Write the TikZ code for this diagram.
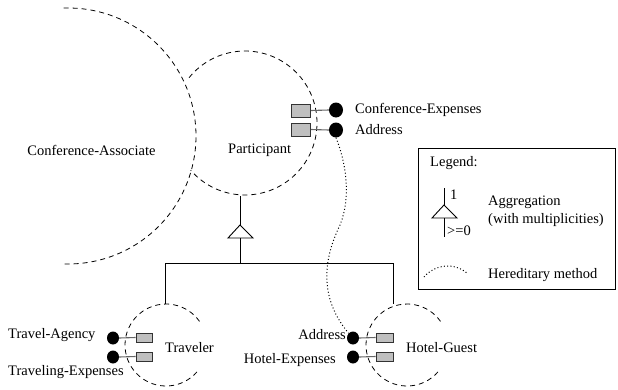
\documentclass[tikz,border=0pt]{standalone}
\usepackage{fontspec}
\setmainfont{Liberation Serif}
\usetikzlibrary{shapes.geometric}
\begin{document}
\begin{tikzpicture}[x=1pt,y=-1pt,
  font=\fontsize{14.5}{17}\selectfont,
  lbl/.style={inner sep=0pt},
  classarc/.style={line width=0.8pt, dash pattern=on 5pt off 4pt},
  attrbox/.style={draw=black!80, fill=black!25, line width=0.8pt, inner sep=0pt, minimum width=#1},
  attrbox/.default=19pt,
  port/.style={ellipse, fill=black, inner sep=0pt, minimum width=#1, minimum height=#1+1pt},
  port/.default=14pt,
  link/.style={draw=black!60, line width=1.1pt},
  aggr/.style={line width=0.9pt},
  heredity/.style={line width=1pt, dash pattern=on 1pt off 2.3pt}]
\useasboundingbox (0,0) rectangle (618,389);

% class boundaries
\draw[classarc] (68,136) ++(-92:128) arc[start angle=-92, end angle=92, radius=128];
\draw[classarc] (245,123) ++(-141:72) arc[start angle=-141, end angle=139, radius=72];
\draw[classarc] (166,345) ++(41:41) arc[start angle=41, end angle=325, radius=41];
\draw[classarc] (407,345) ++(41:41) arc[start angle=41, end angle=325, radius=41];

% class names
\node[lbl] (ca) at (91.5,150) {Conference-Associate};
\node[lbl, anchor=west] (part) at (228,150) {Participant};
\node[lbl, anchor=west] (trav) at (165,348) {Traveler};
\node[lbl, anchor=west] (hotel) at (406,348) {Hotel-Guest};

% Participant methods
\node[attrbox, minimum height=13pt] (pb1) at (301,110.5) {};
\node[attrbox, minimum height=13pt] (pb2) at (301,129.5) {};
\node[port] (pc1) at (336,110) {};
\node[port] (pc2) at (336,130) {};
\draw[link] (pb1.east) -- (pc1.west);
\draw[link] (pb2.east) -- (pc2.west);
\node[lbl, anchor=west] (pl1) at (355,110) {Conference-Expenses};
\node[lbl, anchor=west] (pl2) at (355,130) {Address};

% Traveler methods
\node[attrbox=16pt, minimum height=9pt] (tb1) at (144,337.5) {};
\node[attrbox=16pt, minimum height=9pt] (tb2) at (144,356.5) {};
\node[port=12pt] (tc1) at (113,338) {};
\node[port=12pt] (tc2) at (113,357) {};
\draw[link] (tc1.east) -- (tb1.west);
\draw[link] (tc2.east) -- (tb2.west);
\node[lbl, anchor=west] (tl1) at (8,335) {Travel-Agency};
\node[lbl, anchor=west] (tl2) at (8,372) {Traveling-Expenses};

% Hotel-Guest methods
\node[attrbox=17pt, minimum height=9pt] (hb1) at (384.5,337.5) {};
\node[attrbox=17pt, minimum height=9pt] (hb2) at (384.5,356.5) {};
\node[port=12pt] (hc1) at (353,338) {};
\node[port=12pt] (hc2) at (353,357) {};
\draw[link] (hc1.east) -- (hb1.west);
\draw[link] (hc2.east) -- (hb2.west);
\node[lbl, anchor=east] (hl1) at (346,335) {Address};
\node[lbl, anchor=east] (hl2) at (336,360) {Hotel-Expenses};

% aggregation: Participant consists of Traveler and Hotel-Guest
\coordinate (atop) at (240,196);
\coordinate (apex) at (240,225);
\coordinate (abase) at (240,238);
\coordinate (fork) at (240,263);
\coordinate (forkL) at (165,263);
\coordinate (forkR) at (393,263);
\coordinate (travTop) at (165,304);
\coordinate (hotelTop) at (393,304);
\draw[aggr] (atop) -- (apex);
\draw[aggr] (apex) -- (228,238) -- (253,238) -- cycle;
\draw[aggr] (abase) -- (fork);
\draw[aggr] (forkL) -- (forkR);
\draw[aggr] (forkL) -- (travTop);
\draw[aggr] (forkR) -- (hotelTop);

% inherited Address method
\draw[heredity] (pc2.south) .. controls (345,160) and (352,195) .. (340,225)
  .. controls (328,250) and (314,292) .. (hc1.north west);

% legend
\draw[line width=0.9pt] (418,148) rectangle (615,289);
\node[lbl, anchor=west] (legtitle) at (430,163) {Legend:};
\coordinate (lgtop) at (444,188);
\coordinate (lgapex) at (444,205);
\coordinate (lgbase) at (444,218);
\coordinate (lgbot) at (444,237);
\draw[aggr] (lgtop) -- (lgapex);
\draw[aggr] (lgapex) -- (432,218) -- (457,218) -- cycle;
\draw[aggr] (lgbase) -- (lgbot);
\node[lbl, anchor=west] (mult1) at (450,195) {1};
\node[lbl, anchor=west] (mult0) at (447,231) {>=0};
\node[lbl, anchor=west] (aggtxt) at (488,202) {Aggregation};
\node[lbl, anchor=west] (aggtxt2) at (488,220) {(with multiplicities)};
\coordinate (hs) at (424,277);
\coordinate (he) at (468,274);
\draw[heredity] (hs) .. controls (435,264) and (455,262) .. (he);
\node[lbl, anchor=west] (hertxt) at (488,275) {Hereditary method};
\end{tikzpicture}
\end{document}
